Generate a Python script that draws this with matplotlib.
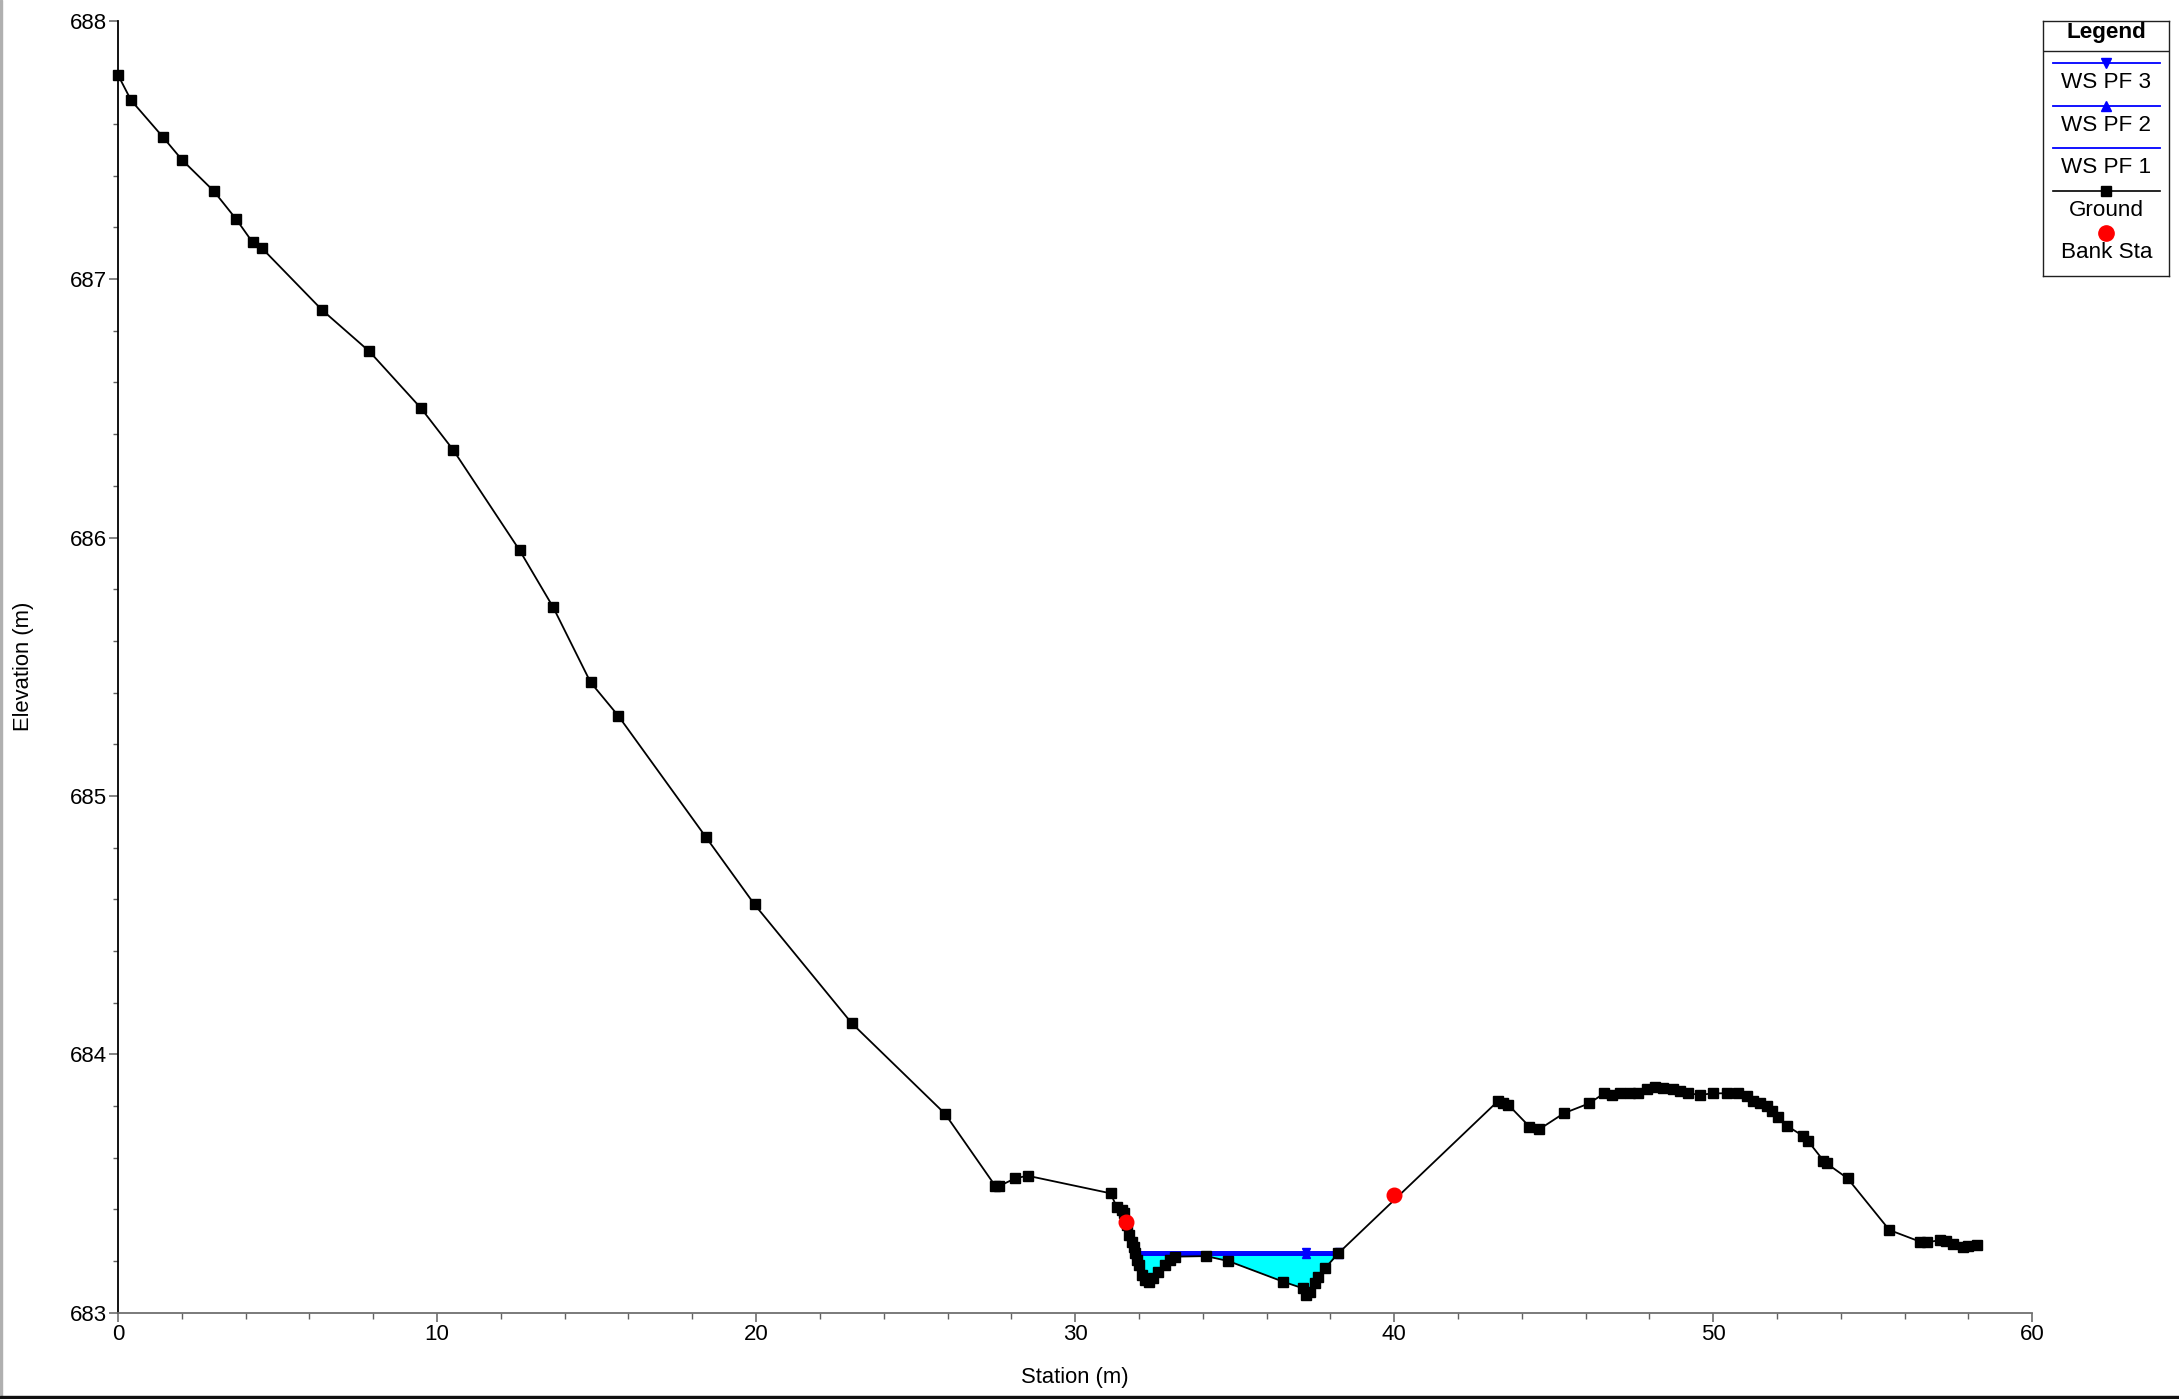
import numpy as np
import matplotlib
matplotlib.use("Agg")
import matplotlib.pyplot as plt
from matplotlib.patches import Rectangle

plt.rcParams['font.family'] = ['Liberation Sans', 'DejaVu Sans']

# ---------------- data ----------------
ground_sta = [0.00, 0.41, 1.40, 2.01, 3.00, 3.71, 4.22, 4.51, 6.40, 7.88, 9.50, 10.50,
              12.59, 13.64, 14.81, 15.68, 18.43, 19.95, 23.00, 25.92, 27.50, 27.62,
              28.12, 28.51, 31.11, 31.30, 31.46, 31.53, 31.62, 31.70, 31.77, 31.83,
              31.88, 31.93, 32.01, 32.09, 32.19, 32.32, 32.45, 32.61, 32.82, 32.97,
              33.13, 34.10, 34.80, 36.52, 37.15, 37.24, 37.36, 37.51, 37.62, 37.83,
              38.25, 43.26, 43.42, 43.58, 44.24, 44.55, 45.32, 46.11, 46.58, 46.82,
              47.08, 47.39, 47.65, 47.91, 48.17, 48.43, 48.75, 48.96, 49.22, 49.58,
              50.00, 50.42, 50.79, 51.05, 51.25, 51.46, 51.67, 51.83, 52.03, 52.30,
              52.80, 52.98, 53.45, 53.55, 54.21, 55.52, 56.48, 56.69, 57.11, 57.30,
              57.53, 57.84, 58.00, 58.26]
ground_el = [687.790, 687.692, 687.551, 687.461, 687.341, 687.231, 687.142, 687.120,
             686.880, 686.720, 686.500, 686.340, 685.950, 685.730, 685.440, 685.310,
             684.840, 684.580, 684.120, 683.770, 683.490, 683.490, 683.520, 683.530,
             683.462, 683.410, 683.397, 683.385, 683.340, 683.301, 683.275, 683.255,
             683.230, 683.204, 683.185, 683.146, 683.127, 683.120, 683.133, 683.159,
             683.185, 683.204, 683.217, 683.219, 683.200, 683.120, 683.094, 683.068,
             683.081, 683.114, 683.139, 683.172, 683.230, 683.820, 683.813, 683.804,
             683.720, 683.710, 683.772, 683.810, 683.849, 683.843, 683.849, 683.849,
             683.852, 683.865, 683.872, 683.868, 683.865, 683.857, 683.849, 683.843,
             683.849, 683.849, 683.849, 683.838, 683.820, 683.810, 683.798, 683.779,
             683.759, 683.724, 683.685, 683.663, 683.589, 683.578, 683.520, 683.320,
             683.275, 683.272, 683.281, 683.279, 683.267, 683.255, 683.258, 683.261]

bank_sta = [31.59, 40.00]
bank_el = [683.352, 683.455]

ws_sta = [31.87, 37.24, 38.26]          # water surface extent + marker stations
ws_pf1 = 683.224
ws_pf2 = 683.229
ws_pf3 = 683.234

x_ticks = [0, 10, 20, 30, 40, 50, 60]
y_ticks = [683, 684, 685, 686, 687, 688]

# ---------------- figure ----------------
W, H = 2179, 1399
fig = plt.figure(figsize=(W / 100, H / 100), dpi=100)
ax_h = 1312.7 - 20.7
ax_w = 2032.3 - 118
ax = fig.add_axes([118 / W, 1 - 1312.7 / H, ax_w / W, ax_h / H])

gs = np.array(ground_sta)
ge = np.array(ground_el)

# water fill
mask = (gs >= ws_sta[0]) & (gs <= ws_sta[-1])
ax.fill_between(gs, ge, ws_pf3, where=mask & (ge <= ws_pf3), interpolate=True,
                color='#00FFFF', linewidth=0, zorder=1)

# water surfaces
ax.plot([ws_sta[0], ws_sta[-1]], [ws_pf1, ws_pf1], color='#0000FF', lw=1.4, zorder=2)
ax.plot(ws_sta, [ws_pf2] * len(ws_sta), color='#0000FF', lw=1.4, marker='^',
        markersize=5.5, zorder=2)
ax.plot(ws_sta, [ws_pf3] * len(ws_sta), color='#0000FF', lw=1.4, marker='v',
        markersize=5.5, zorder=2)

# ground
ax.plot(gs, ge, color='black', lw=1.3, marker='s', markersize=6.8, zorder=3,
        clip_on=False)

# bank stations
ax.plot(bank_sta, bank_el, linestyle='none', marker='o', markersize=10.5,
        color='#FF0000', zorder=4)

ax.set_xlim(0, 60)
ax.set_ylim(683, 688)
ax.set_xticks(x_ticks)
ax.set_yticks(y_ticks)
ax.set_xticks(np.arange(0, 61, 2), minor=True)
ax.set_yticks(np.arange(683, 688.01, 0.2), minor=True)
for s in ['top', 'right']:
    ax.spines[s].set_visible(False)
ax.spines['left'].set_color('black')
ax.spines['bottom'].set_color('#707070')
ax.spines['left'].set_linewidth(1.3)
ax.spines['bottom'].set_linewidth(1.3)
ax.tick_params(which='major', length=6.5, width=1.1, color='#606060',
               labelsize=16, pad=1.5)
ax.tick_params(which='minor', length=4, width=1.0, color='#606060')
ax.tick_params(axis='y', which='minor', length=3.4)
ax.set_xlabel('Station (m)', fontsize=15.8, va='center', ha='center')
ax.set_ylabel('Elevation (m)', fontsize=15.8, va='center', ha='center')
ax.xaxis.set_label_coords(0.5, -65.3 / ax_h)
ax.yaxis.set_label_coords(-95.0 / ax_w, 0.5)

# ---------------- legend (drawn in pixel space) ----------------
lx, ly, lw_, lh = 2043.3, 20.7, 126.0, 255.0
lax = fig.add_axes([lx / W, 1 - (ly + lh) / H, lw_ / W, lh / H])
lax.set_xlim(0, lw_)
lax.set_ylim(lh, 0)
lax.set_xticks([])
lax.set_yticks([])
for s in lax.spines.values():
    s.set_color('#202020')
    s.set_linewidth(1.0)
cx = lw_ / 2
fs = 16.2
lax.text(cx, 12, 'Legend', ha='center', va='center', fontsize=16.2, fontweight='bold')
lax.plot([0, lw_], [30, 30], color='#202020', lw=1.0)
lax.plot([10, 116.7], [42, 42], color='#0000FF', lw=1.3)
lax.plot([cx], [42], marker='v', color='#0000FF', markersize=6.5)
lax.text(cx, 61.5, 'WS PF 3', ha='center', va='center', fontsize=fs)
lax.plot([10, 116.7], [85.3, 85.3], color='#0000FF', lw=1.3)
lax.plot([cx], [85.3], marker='^', color='#0000FF', markersize=6.5)
lax.text(cx, 104.8, 'WS PF 2', ha='center', va='center', fontsize=fs)
lax.plot([10, 116.7], [127, 127], color='#0000FF', lw=1.3)
lax.text(cx, 146.5, 'WS PF 1', ha='center', va='center', fontsize=fs)
lax.plot([10, 116.7], [170.3, 170.3], color='black', lw=1.2)
lax.plot([cx], [170.3], marker='s', color='black', markersize=6.5)
lax.text(cx, 189.8, 'Ground', ha='center', va='center', fontsize=fs)
lax.plot([cx], [212.6], marker='o', color='#FF0000', markersize=11)
lax.text(cx, 231.5, 'Bank Sta', ha='center', va='center', fontsize=fs)

# frame edges of the original screenshot
fig.patches.append(Rectangle((0, 0), 2 / W, 1, transform=fig.transFigure,
                             color='#b0b0b0', zorder=10))
fig.patches.append(Rectangle((0, 0), 1, 3.5 / H, transform=fig.transFigure,
                             color='#101010', zorder=10))

fig.savefig('out.png', dpi=100)
